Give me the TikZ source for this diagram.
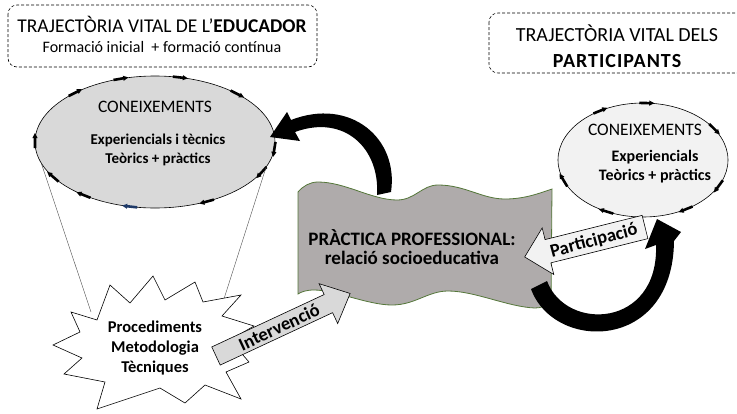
\documentclass[tikz,border=0pt]{standalone}
\usepackage{fontspec}
\setmainfont{Carlito}
\usetikzlibrary{shapes.geometric,decorations.markings}
\definecolor{ellgray}{HTML}{D9D9D9}
\definecolor{ellwhite}{HTML}{F2F2F2}
\definecolor{wavegray}{HTML}{AFABAB}
\definecolor{wavegreen}{HTML}{55773A}
\definecolor{markblue}{HTML}{1F3A68}
\newcommand\ringmark[1]{\fill[#1] (-5pt,-1.3pt) rectangle (6pt,1.3pt); \fill[#1] (-9pt,0pt) -- (-4pt,2.6pt) -- (-4pt,-2.6pt) -- cycle;}
\tikzset{
  dashbox/.style={draw, dash pattern=on 3pt off 2pt, rounded corners=9pt, line width=0.6pt},
  ringL/.style={postaction={decorate}, decoration={markings,
     mark=at position 0.11 with {\ringmark{black}},
     mark=at position 0.21 with {\ringmark{black}},
     mark=at position 0.31 with {\ringmark{black}},
     mark=at position 0.39 with {\ringmark{black}},
     mark=at position 0.50 with {\ringmark{black}},
     mark=at position 0.57 with {\ringmark{black}},
     mark=at position 0.63 with {\ringmark{black}},
     mark=at position 0.71 with {\ringmark{markblue}},
     mark=at position 0.84 with {\ringmark{black}},
     mark=at position 0.945 with {\ringmark{black}},
     mark=at position 0.99 with {\ringmark{black}}}},
  ringR/.style={postaction={decorate}, decoration={markings,
     mark=at position 0.08 with {\ringmark{black}},
     mark=at position 0.245 with {\ringmark{black}},
     mark=at position 0.35 with {\ringmark{black}},
     mark=at position 0.55 with {\ringmark{black}},
     mark=at position 0.67 with {\ringmark{black}},
     mark=at position 0.85 with {\ringmark{black}},
     mark=at position 0.94 with {\ringmark{black}}}},
  ellbox/.style={ellipse, draw, line width=0.6pt, inner sep=0pt},
  titletxt/.style={font=\fontsize{19.5}{22}\selectfont, align=center},
  conetxt/.style={font=\fontsize{17.5}{20}\selectfont},
  boldtxt/.style={font=\bfseries\fontsize{15}{20}\selectfont, align=center},
  arrowtxt/.style={font=\bfseries\fontsize{18.5}{20}\selectfont, inner sep=0pt},
  blockarrow/.style={draw, line width=0.6pt},
  curvearrow/.style={fill=black},
  funnel/.style={draw=black!70, line width=0.4pt}
}
\begin{document}
\begin{tikzpicture}[x=1pt,y=-1pt]
\useasboundingbox (0,0) rectangle (737,413);

% dashed title boxes
\draw[dashbox] (8,5) rectangle (317,67);
\node[titletxt] (tL1) at (162,24) {TRAJECTÒRIA VITAL DE L’\textbf{EDUCADOR}};
\node[font=\fontsize{16}{18}\selectfont] (tL2) at (162,47) {Formació inicial \ + formació contínua};

\draw[dashbox] (489,13) rectangle (760,73);
\node[titletxt, font=\fontsize{20}{22}\selectfont] (tR1) at (617,33) {TRAJECTÒRIA VITAL DELS};
\node[font=\bfseries\fontsize{20}{22}\selectfont\addfontfeatures{LetterSpace=5}] (tR2) at (617,61) {PARTICIPANTS};

% left knowledge ellipse
\node[ellbox, fill=ellgray, ringL, minimum width=240pt, minimum height=132pt] (ellL) at (155,142) {};
\node[conetxt] (ellLt) at (155,107) {CONEIXEMENTS};
\node[boldtxt, font=\bfseries\fontsize{15}{19}\selectfont] (ellLb) at (158,150) {Experiencials i tècnics\\Teòrics + pràctics};

% star
\coordinate (sL) at (91,312);
\coordinate (sR) at (222,305);
\draw[funnel] (ellL.191) -- (sL);
\draw[funnel] (ellL.-13) -- (sR);
\draw[fill=white, line width=0.6pt] (110,285) -- (130,303) -- (153,276) -- (165,300) -- (195,282) -- (203,302) -- (241,295) -- (222,316) -- (254,326) -- (230,340) -- (249,362) -- (226,372) -- (241,399) -- (205,385) -- (185,403) -- (160,388) -- (97,409) -- (105,382) -- (64,374) -- (82,358) -- (53,345) -- (80,332) -- (71,312) -- (97,320) -- cycle;
\node[boldtxt, font=\bfseries\fontsize{16.5}{20}\selectfont] (star) at (155,348) {Procediments\\Metodologia\\Tècniques};

% right knowledge ellipse
\node[ellbox, fill=ellwhite, ringR, minimum width=170pt, minimum height=114pt] (ellR) at (643,160) {};
\node[conetxt] (ellRt) at (645,130) {CONEIXEMENTS};
\node[boldtxt, font=\bfseries\fontsize{16}{19}\selectfont] (ellRb) at (655,167) {Experiencials\\Teòrics + pràctics};

% wavy practice shape
\draw[wavegreen, fill=wavegray, line width=0.8pt]
  (298,192) .. controls (303,186) and (310,182) .. (318,182)
  .. controls (345,182) and (372,200) .. (397,200)
  .. controls (415,200) and (422,185) .. (438,185)
  .. controls (465,185) and (482,199) .. (505,199)
  .. controls (525,199) and (540,193) .. (552,189)
  -- (551,302)
  .. controls (546,306) and (541,308) .. (535,308)
  .. controls (508,307) and (475,291) .. (448,291)
  .. controls (428,291) and (415,305) .. (392,305)
  .. controls (368,305) and (335,290) .. (314,290)
  .. controls (306,290) and (301,292) .. (298,294) -- cycle;
\node[boldtxt, font=\bfseries\fontsize{19}{19.5}\selectfont] (prac) at (412,247) {PRÀCTICA PROFESSIONAL:\\relació socioeducativa};

% curved black arrows
\fill[curvearrow] (391,192) .. controls (399,138) and (350,97) .. (291,120)
  -- (287,112) -- (270,137) -- (300,141) -- (295,132)
  .. controls (344,114) and (380,148) .. (377,195) -- cycle;
\fill[curvearrow] (531,289) .. controls (554,352) and (673,352) .. (674,241)
  -- (681,232) -- (657,219) -- (645,249) -- (656,245)
  .. controls (659,328) and (566,332) .. (547,281) -- cycle;

% Intervenció block arrow
\begin{scope}[shift={(216,356)}, rotate=25]
  \draw[blockarrow, fill=ellgray] (0,-10) -- (124,-10) -- (124,-22) -- (148,0) -- (124,22) -- (124,10) -- (0,10) -- cycle;
\end{scope}
\node[arrowtxt, rotate=25] (interv) at (279,327) {Intervenció};

% Participació block arrow
\begin{scope}[shift={(645,227)}, rotate=194]
  \draw[blockarrow, fill=ellwhite] (0,-12) -- (100,-12) -- (100,-24) -- (124,0) -- (100,24) -- (100,12) -- (0,12) -- cycle;
\end{scope}
\node[arrowtxt, rotate=15] (partic) at (594,241) {Participació};
\end{tikzpicture}
\end{document}
